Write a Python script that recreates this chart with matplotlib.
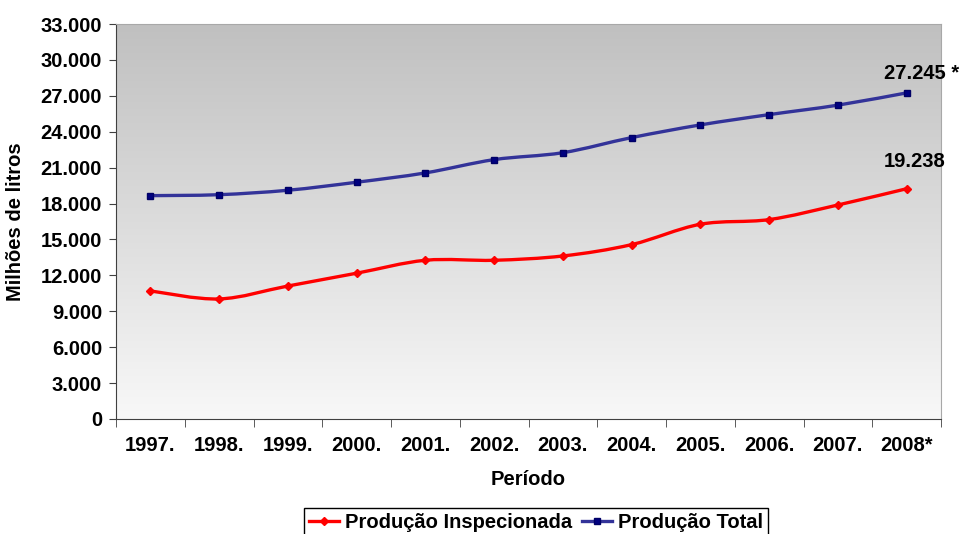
import matplotlib.pyplot as plt
import numpy as np
from matplotlib.path import Path
from matplotlib.patches import PathPatch
from matplotlib.lines import Line2D
from matplotlib.colors import LinearSegmentedColormap

plt.rcParams['font.family'] = ['Liberation Sans', 'DejaVu Sans']
plt.rcParams['font.weight'] = 'bold'
plt.rcParams['axes.labelweight'] = 'bold'

anos = ['1997.', '1998.', '1999.', '2000.', '2001.', '2002.',
        '2003.', '2004.', '2005.', '2006.', '2007.', '2008*']
inspecionada = [10700, 10030, 11110, 12180, 13260, 13260,
                13620, 14570, 16270, 16660, 17880, 19238]
total = [18660, 18740, 19110, 19780, 20560, 21670,
         22250, 23510, 24570, 25430, 26220, 27245]
y_ticks = list(range(0, 33001, 3000))


def smooth_path(x, y):
    # Excel-like smoothed line: cubic bezier through each point
    pts = np.column_stack([x, y]).astype(float)
    n = len(pts)
    verts = [pts[0]]
    codes = [Path.MOVETO]
    for i in range(n - 1):
        p0 = pts[i - 1] if i > 0 else pts[i]
        p1 = pts[i]
        p2 = pts[i + 1]
        p3 = pts[i + 2] if i + 2 < n else pts[i + 1]
        verts += [p1 + (p2 - p0) / 6, p2 - (p3 - p1) / 6, p2]
        codes += [Path.CURVE4] * 3
    return Path(verts, codes)


def fmt(v):
    return f'{v:,.0f}'.replace(',', '.')


fs = 14.5
fig = plt.figure(figsize=(9.6, 5.34), dpi=100)
ax = fig.add_axes([116 / 960, 1 - 419 / 534, 825 / 960, 395 / 534])

# gray gradient background of the plot area
cmap = LinearSegmentedColormap.from_list('bg', ['#f8f8f8', '#c0c0c0'])
ax.imshow(np.linspace(0, 1, 256).reshape(-1, 1), cmap=cmap, origin='lower',
          extent=[0, 1, 0, 1], transform=ax.transAxes, aspect='auto', zorder=0)

x = np.arange(len(anos))
red = '#ff0000'
blue = '#333399'

ax.add_patch(PathPatch(smooth_path(x, inspecionada), facecolor='none',
                       edgecolor=red, lw=2.4, zorder=3))
ax.plot(x, inspecionada, ls='none', marker='D', ms=4.5, color=red, zorder=4)

ax.add_patch(PathPatch(smooth_path(x, total), facecolor='none',
                       edgecolor=blue, lw=2.4, zorder=3))
ax.plot(x, total, ls='none', marker='s', ms=5, mfc='#000080', mec='#000066',
        zorder=4)

ax.annotate(fmt(total[-1]) + ' *', (x[-1], total[-1]), xytext=(-23, 19),
            textcoords='offset pixels', ha='left', va='center', fontsize=fs,
            annotation_clip=False)
ax.annotate(fmt(inspecionada[-1]), (x[-1], inspecionada[-1]), xytext=(-23, 27),
            textcoords='offset pixels', ha='left', va='center', fontsize=fs,
            annotation_clip=False)

ax.set_xlim(-0.5, len(anos) - 0.5)
ax.set_ylim(0, 33000)

ax.set_xticks(x)
ax.set_xticklabels(anos, fontsize=fs)
ax.set_xticks(np.arange(len(anos) + 1) - 0.5, minor=True)
ax.tick_params(axis='x', which='major', length=0, pad=12)
ax.tick_params(axis='x', which='minor', length=6, color='#404040')

ax.set_yticks(y_ticks)
ax.set_yticklabels([fmt(v) for v in y_ticks], fontsize=fs)
ax.tick_params(axis='y', length=5, color='#404040', pad=5)

for s in ['left', 'bottom']:
    ax.spines[s].set_color('#404040')
for s in ['top', 'right']:
    ax.spines[s].set_color('#a8a8a8')

ax.set_xlabel('Período', fontsize=fs)
ax.xaxis.set_label_coords(0.5, -0.13)
ax.set_ylabel('Milhões de litros', fontsize=fs)
ax.yaxis.set_label_coords(-0.11, 0.5)

handles = [
    Line2D([], [], color=red, lw=2.4, marker='D', ms=4),
    Line2D([], [], color=blue, lw=2.4, marker='s', ms=4.5, mfc='#000080',
           mec='#000066'),
]
leg = fig.legend(handles, ['Produção Inspecionada', 'Produção Total'],
                 loc='upper center', bbox_to_anchor=(536 / 960, 1 - 508 / 534),
                 ncol=2, fontsize=fs, frameon=True, fancybox=False,
                 edgecolor='black', framealpha=1, borderpad=0.25,
                 handlelength=1.5, handletextpad=0.3, columnspacing=0.5,
                 borderaxespad=0)
leg.get_frame().set_linewidth(1)

fig.savefig('out.png', dpi=100)
